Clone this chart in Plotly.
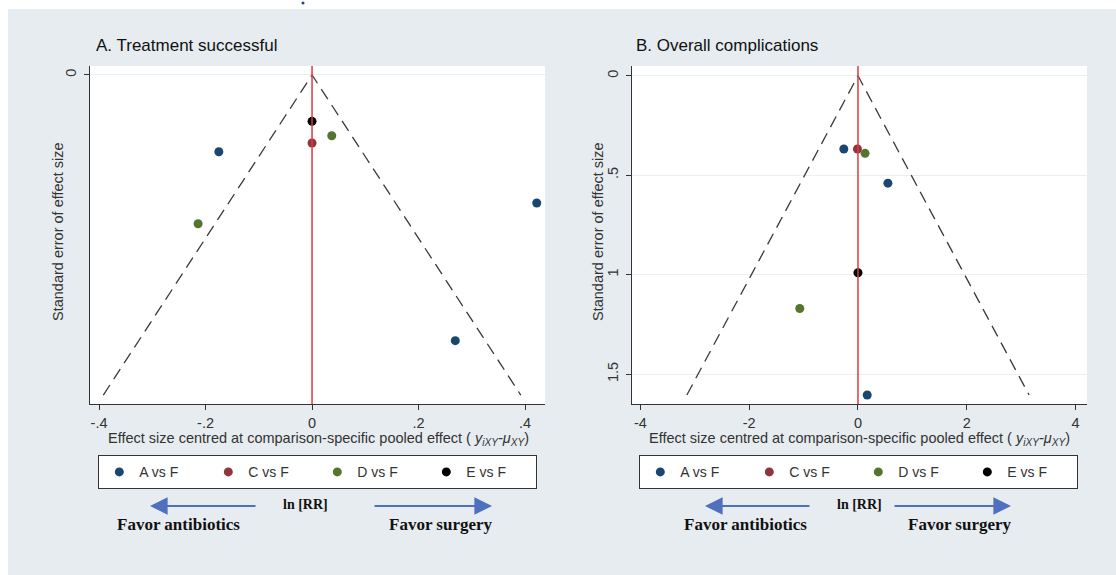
import plotly.graph_objects as go

W, H = 1116, 575

def px(x):
    return x / W

def py(y):
    return 1 - y / H

# ---------------- data ----------------
groups = ["A vs F", "C vs F", "D vs F", "E vs F"]
colors = ["#1a476f", "#90353b", "#55752f", "#000000"]

# Panel A: Treatment successful
a_x = {"A vs F": [-0.175, 0.422, 0.269],
       "C vs F": [0.0],
       "D vs F": [0.037, -0.214],
       "E vs F": [0.0]}
a_se = {"A vs F": [0.048, 0.080, 0.166],
        "C vs F": [0.0425],
        "D vs F": [0.038, 0.093],
        "E vs F": [0.029]}
a_se_max = 0.2

# Panel B: Overall complications
b_x = {"A vs F": [-0.26, 0.55, 0.17],
       "C vs F": [-0.01],
       "D vs F": [0.13, -1.07],
       "E vs F": [0.0]}
b_se = {"A vs F": [0.368, 0.54, 1.605],
        "C vs F": [0.368],
        "D vs F": [0.39, 1.17],
        "E vs F": [0.99]}
b_se_max = 1.605

a_xticks = [-0.4, -0.2, 0, 0.2, 0.4]
a_xlabels = ["-.4", "-.2", "0", ".2", ".4"]
a_yticks = [0]
a_ylabels = ["0"]
b_xticks = [-4, -2, 0, 2, 4]
b_xlabels = ["-4", "-2", "0", "2", "4"]
b_yticks = [0, 0.5, 1, 1.5]
b_ylabels = ["0", ".5", "1", "1.5"]

# ---------------- figure ----------------
fig = go.Figure()
FONT = "Liberation Sans, Arial, sans-serif"
SERIF = "Liberation Serif, Times New Roman, serif"
BG = "#e7ecf0"

def add_panel(xs, ses, se_max, xa, ya, legend):
    z = 1.96 * se_max
    fig.add_trace(go.Scatter(x=[-z, 0, z], y=[se_max, 0, se_max], mode="lines",
                             line=dict(color="#3a3a3a", width=1.3, dash="12px,7px"),
                             xaxis=xa, yaxis=ya, showlegend=False, hoverinfo="skip"))
    for g, c in zip(groups, colors):
        fig.add_trace(go.Scatter(x=xs[g], y=ses[g], mode="markers", name=g,
                                 marker=dict(color=c, size=9, line=dict(width=0)),
                                 xaxis=xa, yaxis=ya, legend=legend))

add_panel(a_x, a_se, a_se_max, "x", "y", "legend")
add_panel(b_x, b_se, b_se_max, "x2", "y2", "legend2")

axis_common = dict(showline=True, linecolor="#333333", linewidth=1.3, ticks="outside",
                   ticklen=5, tickcolor="#333333", zeroline=False,
                   tickfont=dict(family=FONT, size=14.5, color="#333333"))

yt, yb = 66, 404
fig.update_layout(
    xaxis=dict(domain=[px(90), px(545)], range=[-0.417, 0.4375], anchor="y",
               tickvals=a_xticks, ticktext=a_xlabels, showgrid=False, **axis_common),
    yaxis=dict(domain=[py(yb), py(yt)], range=[0.2056, -0.0056], anchor="x",
               tickvals=a_yticks, ticktext=a_ylabels, tickangle=-90, showgrid=True,
               gridcolor="#eaf0f2", ticklabelstandoff=2, **axis_common),
    xaxis2=dict(domain=[px(632), px(1087)], range=[-4.154, 4.21], anchor="y2",
                tickvals=b_xticks, ticktext=b_xlabels, showgrid=False, **axis_common),
    yaxis2=dict(domain=[py(yb), py(yt)], range=[1.65, -0.049], anchor="x2",
                tickvals=b_yticks, ticktext=b_ylabels, tickangle=-90, showgrid=True,
                gridcolor="#eaf0f2", ticklabelstandoff=2, **axis_common),
)

leg_common = dict(orientation="h", bgcolor="white", bordercolor="#333333", borderwidth=1.3,
                  font=dict(family=FONT, size=14, color="#333333"), xanchor="left",
                  yanchor="top", entrywidth=64, entrywidthmode="pixels", itemclick=False,
                  tracegroupgap=0)
fig.update_layout(
    legend=dict(x=px(98), y=py(455), **leg_common),
    legend2=dict(x=px(639), y=py(455), **leg_common),
)

shapes = []
# white strips at the top and left edge of the picture
shapes.append(dict(type="rect", xref="paper", yref="paper", x0=-0.01, x1=1.01,
                   y0=py(9), y1=1.01, fillcolor="white", line=dict(width=0), layer="below"))
shapes.append(dict(type="rect", xref="paper", yref="paper", x0=-0.01, x1=px(8),
                   y0=-0.01, y1=1.01, fillcolor="white", line=dict(width=0), layer="below"))
shapes.append(dict(type="circle", xref="paper", yref="paper", x0=px(301.5), x1=px(304.5),
                   y0=py(4.5), y1=py(1.5), fillcolor="#2a3ab0", line=dict(width=0)))
# red reference lines at 0
for xr, yr in [("x", "y domain"), ("x2", "y2 domain")]:
    shapes.append(dict(type="line", xref=xr, yref=yr, x0=0, x1=0, y0=0, y1=1,
                       line=dict(color="#e0393e", width=1.5), layer="above"))
fig.update_layout(shapes=shapes)

ann = []
xtitle = "Effect size centred at comparison-specific pooled effect ( <i>y<sub>iXY</sub>-μ<sub>XY</sub></i>)"
for (tx, title, axcx, ytx, arrL, arrR, lnx, favA, favS) in [
        (94, "A. Treatment successful", 318, 58, (257, 150), (373, 492), 305, 179, 441),
        (634, "B. Overall complications", 860, 598, (811, 705), (893, 1011), 859, 745, 960)]:
    ann.append(dict(x=px(tx), y=py(46), xref="paper", yref="paper", text=title,
                    showarrow=False, xanchor="left", yanchor="middle",
                    font=dict(family=FONT, size=17, color="#111111")))
    ann.append(dict(x=px(axcx), y=py(439), xref="paper", yref="paper", text=xtitle,
                    showarrow=False, xanchor="center", yanchor="middle",
                    font=dict(family=FONT, size=14.5, color="#333333")))
    ann.append(dict(x=px(ytx), y=py(232), xref="paper", yref="paper",
                    text="Standard error of effect size", textangle=-90,
                    showarrow=False, xanchor="center", yanchor="middle",
                    font=dict(family=FONT, size=14.5, color="#333333")))
    # arrows
    for (x0, x1) in [arrL, arrR]:
        ann.append(dict(x=px(x1), y=py(506), xref="paper", yref="paper",
                        ax=x0 - x1, ay=0, axref="pixel", ayref="pixel", text="",
                        showarrow=True, arrowhead=2, arrowsize=1.6, arrowwidth=2.2,
                        arrowcolor="#4f6fbf"))
    ann.append(dict(x=px(lnx), y=py(504), xref="paper", yref="paper", text="<b>ln [RR]</b>",
                    showarrow=False, xanchor="center", yanchor="middle",
                    font=dict(family=SERIF, size=14, color="#111111")))
    ann.append(dict(x=px(favA), y=py(524), xref="paper", yref="paper",
                    text="<b>Favor antibiotics</b>", showarrow=False, xanchor="center",
                    yanchor="middle", font=dict(family=SERIF, size=17, color="#111111")))
    ann.append(dict(x=px(favS), y=py(524), xref="paper", yref="paper",
                    text="<b>Favor surgery</b>", showarrow=False, xanchor="center",
                    yanchor="middle", font=dict(family=SERIF, size=17, color="#111111")))
fig.update_layout(annotations=ann)

fig.update_layout(width=W, height=H, margin=dict(l=0, r=0, t=0, b=0, autoexpand=False),
                  paper_bgcolor=BG, plot_bgcolor="white", hovermode=False)

fig.write_html("out.html", config={"displayModeBar": False},
               post_script="document.body.style.margin='0';"
                           "document.body.style.overflow='hidden';"
                           "document.documentElement.style.overflow='hidden';")
